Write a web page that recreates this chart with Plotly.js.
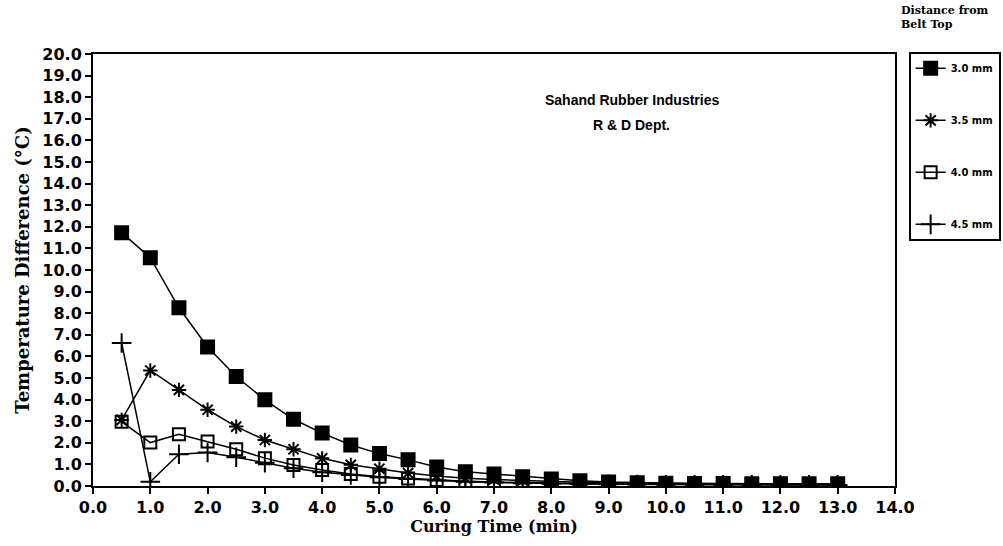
<!DOCTYPE html>
<html>
<head>
<meta charset="utf-8">
<script src="https://cdn.plot.ly/plotly-3.0.1.min.js"></script>
<style>html,body{margin:0;padding:0;background:#fff;}#chart{width:1003px;height:546px;}</style>
</head>
<body>
<div id="chart"></div>
<script>
var curingTime = [0.5,1.0,1.5,2.0,2.5,3.0,3.5,4.0,4.5,5.0,5.5,6.0,6.5,7.0,7.5,8.0,8.5,9.0,9.5,10.0,10.5,11.0,11.5,12.0,12.5,13.0];
var d30 = [11.73,10.57,8.25,6.44,5.07,3.99,3.09,2.45,1.90,1.50,1.21,0.88,0.66,0.55,0.43,0.32,0.24,0.18,0.15,0.13,0.12,0.11,0.10,0.10,0.10,0.10];
var d35 = [3.06,5.35,4.45,3.53,2.75,2.13,1.70,1.28,0.98,0.80,0.60,0.46,0.36,0.30,0.25,0.20,0.17,0.15,0.13,0.12,0.11,0.10,0.09,0.09,0.08,0.08];
var d40 = [2.98,2.01,2.40,2.06,1.70,1.29,0.97,0.74,0.56,0.43,0.35,0.28,0.22,0.18,0.15,0.12,0.10,0.09,0.08,0.07,0.07,0.06,0.06,0.06,0.06,0.06];
var d45 = [6.62,0.20,1.47,1.55,1.33,1.08,0.82,0.64,0.51,0.40,0.32,0.25,0.20,0.16,0.13,0.10,0.09,0.08,0.07,0.06,0.06,0.05,0.05,0.05,0.05,0.05];
var seriesNames = ["3.0 mm","3.5 mm","4.0 mm","4.5 mm"];
var xTickLabels = ["0.0","1.0","2.0","3.0","4.0","5.0","6.0","7.0","8.0","9.0","10.0","11.0","12.0","13.0","14.0"];

var seriesData = [d30, d35, d40, d45];
var symbols = ["square","asterisk-open","square-open","cross-thin-open"];
var sizes = [13, 12, 12, 14];
var traces = seriesData.map(function(d, i){
  return {
    x: curingTime, y: d, name: seriesNames[i], type: "scatter", mode: "lines+markers",
    legendgroup: "g"+i,
    line: {color: "#000", width: 1.5},
    marker: {symbol: symbols[i], size: sizes[i], color: "#000", line: {color: "#000", width: 2}}
  };
});

var tickFont = {family: "DejaVu Sans", size: 16, color: "#000", weight: "bold"};
var layout = {
  width: 1003, height: 546,
  margin: {l: 93, r: 108, t: 54, b: 60, autoexpand: false},
  paper_bgcolor: "#fff", plot_bgcolor: "#fff",
  showlegend: true,
  xaxis: {
    range: [0, 14], tickvals: [0,1,2,3,4,5,6,7,8,9,10,11,12,13,14], ticktext: xTickLabels,
    showgrid: false, zeroline: false, showline: true, mirror: true, linecolor: "#000", linewidth: 2,
    ticks: "outside", ticklen: 6, tickwidth: 2, tickcolor: "#000",
    tickfont: tickFont,
    title: {text: "Curing Time (min)", font: {family: "DejaVu Serif", size: 16, color: "#000", weight: "bold"}, standoff: 4}
  },
  yaxis: {
    range: [0, 20], dtick: 1, tickformat: ".1f",
    showgrid: false, zeroline: false, showline: true, mirror: true, linecolor: "#000", linewidth: 2,
    ticks: "outside", ticklen: 6, tickwidth: 2, tickcolor: "#000",
    tickfont: tickFont,
    title: {text: "Temperature Difference (°C)", font: {family: "DejaVu Serif", size: 18, color: "#000", weight: "bold"}, standoff: 8}
  },
  legend: {
    x: 1.017, y: 1.005, xanchor: "left", yanchor: "top",
    bordercolor: "#000", borderwidth: 2, bgcolor: "#fff",
    font: {family: "DejaVu Sans", size: 10, color: "#000", weight: "bold"},
    itemwidth: 30, tracegroupgap: 33
  },
  annotations: [
    {xref: "paper", yref: "paper", x: 0.672, y: 0.894, xanchor: "center", yanchor: "middle",
     text: "Sahand Rubber Industries", showarrow: false,
     font: {family: "Liberation Sans", size: 14, color: "#000", weight: "bold"}},
    {xref: "paper", yref: "paper", x: 0.672, y: 0.836, xanchor: "center", yanchor: "middle",
     text: "R &amp; D Dept.", showarrow: false,
     font: {family: "Liberation Sans", size: 14, color: "#000", weight: "bold"}},
    {xref: "paper", yref: "paper", x: 1.005, y: 1.12, xanchor: "left", yanchor: "top", align: "left",
     text: "Distance from<br>Belt Top", showarrow: false,
     font: {family: "DejaVu Serif", size: 11, color: "#000", weight: "bold"}}
  ]
};
Plotly.newPlot("chart", traces, layout, {displayModeBar: false, staticPlot: true});
</script>
</body>
</html>
